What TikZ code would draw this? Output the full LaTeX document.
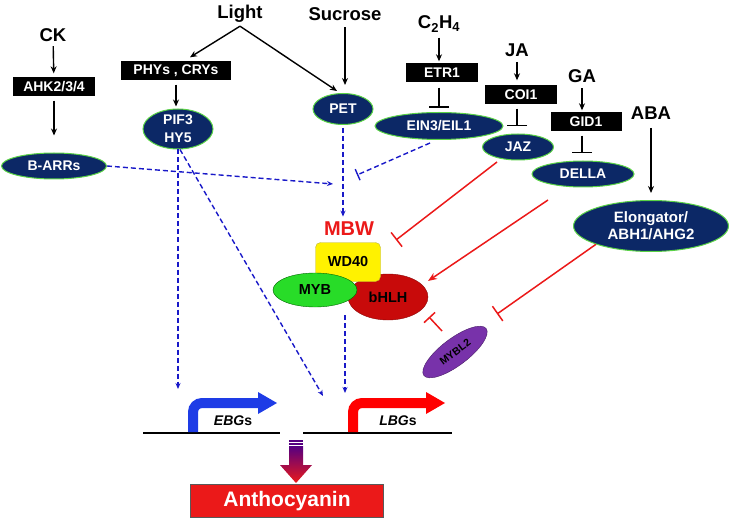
\documentclass[tikz,border=0pt]{standalone}
\usepackage{fontspec}
\setmainfont{Liberation Sans}
\usetikzlibrary{shapes.geometric}
\usetikzlibrary{arrows.meta}
\usetikzlibrary{positioning}

\definecolor{navy}{RGB}{12,40,102}
\definecolor{lgreen}{RGB}{90,210,70}
\definecolor{dblue}{RGB}{25,25,200}
\definecolor{rred}{RGB}{235,25,25}
\definecolor{hred}{RGB}{200,10,10}
\definecolor{mgreen}{RGB}{40,220,40}
\definecolor{purp}{RGB}{120,50,170}
\definecolor{darrow}{RGB}{85,0,130}
\definecolor{ebgblue}{RGB}{30,60,230}

\begin{document}
\begin{tikzpicture}[x=1pt,y=-1pt,
  title/.style={font=\fontsize{18.5}{20}\selectfont\bfseries},
  blackbox/.style={fill=black,text=white,font=\fontsize{14}{15}\selectfont\bfseries,
    minimum height=19pt,inner sep=0pt},
  oval/.style={ellipse,fill=navy,draw=lgreen,line width=1pt,text=white,
    font=\fontsize{14}{18}\selectfont\bfseries,inner sep=0pt,align=center},
  cplx/.style={inner sep=0pt,font=\fontsize{14.5}{16}\selectfont\bfseries},
  act/.style={-{Stealth[length=7pt,width=6pt]},line width=1.4pt},
  blk/.style={-{Bar[width=20pt]},line width=1.8pt},
  bact/.style={dblue,line width=1.4pt,dash pattern=on 5pt off 3pt,
    -{Stealth[length=6pt,width=5pt]}},
  binh/.style={dblue,line width=1.4pt,dash pattern=on 5pt off 3pt,-{Bar[width=12pt]}},
  ract/.style={rred,line width=1.5pt,-{Stealth[length=9pt,width=7pt]}},
  rinh/.style={rred,line width=1.5pt,-{Bar[width=18pt]}}]
\useasboundingbox (0,0) rectangle (730,521);

% signals and receptors
\node[title] (ck) at (53,35) {CK};
\node[blackbox,minimum width=82pt] (ahk) at (54,87) {AHK2/3/4};
\node[oval,minimum width=105pt,minimum height=26pt] (barr) at (54,166) {B-ARRs};
\node[title] (light) at (240,14) {Light};
\node[blackbox,minimum width=110pt] (phys) at (176,71) {PHYs , CRYs};
\node[oval,minimum width=70pt,minimum height=40pt] (pif) at (178,129) {PIF3\\HY5};
\node[title] (sucrose) at (345,14) {Sucrose};
\node[oval,minimum width=60pt,minimum height=31pt] (pet) at (343,109) {PET};
\node[title] (eth) at (439,24) {C\textsubscript{2}H\textsubscript{4}};
\node[blackbox,minimum width=72pt] (etr) at (442,73) {ETR1};
\node[oval,minimum width=128pt,minimum height=27pt] (ein) at (439,126) {EIN3/EIL1};
\node[title] (ja) at (517,50) {JA};
\node[blackbox,minimum width=72pt] (coi) at (521,95) {COI1};
\node[oval,minimum width=71pt,minimum height=26pt] (jaz) at (518,147) {JAZ};
\node[title] (ga) at (582,76) {GA};
\node[blackbox,minimum width=71pt] (gid) at (586,122) {GID1};
\node[oval,minimum width=102pt,minimum height=26pt] (della) at (583,174) {DELLA};
\node[title] (aba) at (651,113) {ABA};
\node[oval,minimum width=155pt,minimum height=51pt,font=\fontsize{15}{17}\selectfont\bfseries]
  (elong) at (651,226) {Elongator/\\ABH1/AHG2};

% MBW complex
\node[font=\fontsize{20}{22}\selectfont\bfseries,text=rred] (mbw) at (349,229) {MBW};
\node[cplx,ellipse,fill=hred,draw=hred!70!black,minimum width=80pt,minimum height=46pt]
  (bhlh) at (388,297) {bHLH};
\node[cplx,fill=yellow,draw=yellow!70!black,rounded corners=5pt,minimum width=65pt,
  minimum height=39pt] (wd) at (348,262) {WD40};
\node[cplx,ellipse,fill=mgreen,draw=green!40!black,minimum width=84pt,minimum height=34pt]
  (myb) at (315,290) {MYB};
\node[ellipse,fill=purp,draw=purp!60!black,rotate=37,minimum width=78pt,minimum height=27pt,
  inner sep=0pt,font=\fontsize{10.5}{12}\selectfont\bfseries] (mybl) at (455,352) {MYBL2};

% black arrows
\draw[act,shorten <=1pt,shorten >=4pt] (ck) -- (ahk);
\draw[act,shorten <=4pt,shorten >=17pt] (ahk) -- (barr);
\draw[act] (light.south) -- ([xshift=14pt,yshift=4pt]phys.north);
\draw[act] (light.south) -- ([xshift=-6pt,yshift=2pt]pet.north);
\draw[act,shorten <=3pt,shorten >=8pt] (sucrose) -- (sucrose |- pet.north);
\draw[act,shorten <=4pt,shorten >=2pt] (phys) -- (phys |- pif.north);
\draw[act,shorten <=2pt,shorten >=2pt] (eth) -- (eth |- etr.north);
\draw[blk,shorten <=5pt,shorten >=4pt] (etr.south -| eth) -- (eth |- ein.north);
\draw[act,shorten <=2pt,shorten >=5pt] (ja) -- (ja |- coi.north);
\draw[blk,shorten <=4pt,shorten >=7pt] (coi.south -| ja) -- (ja |- jaz.north);
\draw[act,shorten <=2pt,shorten >=2pt] (ga) -- (ga |- gid.north);
\draw[blk,shorten <=4pt,shorten >=7pt] (gid.south -| ga) -- (ga |- della.north);
\draw[act,shorten <=5pt,shorten >=7pt] (aba) -- (aba |- elong.north);

% blue dashed regulation
\coordinate (petj) at (333,184);
\coordinate (einj) at (357,175);
\coordinate (ebgin) at (178,389);
\coordinate (lbgdiag) at (323,396);
\coordinate (mbwout) at (345,315);
\coordinate (lbgin) at (345,393);
\draw[bact] (barr.east) -- (petj);
\draw[binh] ([xshift=-9pt,yshift=-3pt]ein.south) -- (einj);
\draw[bact,shorten <=3pt,shorten >=2pt] (pet.south) -- (pet.south |- mbw.north);
\draw[bact] (pif.south) -- (ebgin);
\draw[bact] ([xshift=2pt]pif.south) -- (lbgdiag);
\draw[bact] (mbwout) -- (lbgin);

% red regulation
\coordinate (mbwinh) at (396,240);
\coordinate (myblinh) at (497,314);
\draw[rinh] ([shift={(-21,15)}]jaz.center) -- (mbwinh);
\draw[ract] ([shift={(-35,26)}]della.center) -- ([shift={(40,-16)}]bhlh.center);
\draw[rinh] (elong.south west) -- (myblinh);
\draw[rinh,-{Bar[width=15pt]}] ([shift={(-13,-21)}]mybl.center) -- ([shift={(41,20)}]bhlh.center);

% genes
\draw[line width=2pt] (143,433) -- (280,433);
\draw[line width=2pt] (303,433) -- (452,433);
\draw[line width=10pt,ebgblue,rounded corners=9pt] (193,432) -- (193,403) -- (260,403);
\fill[ebgblue] (258,392) -- (277,403) -- (258,414) -- cycle;
\draw[line width=10pt,red,rounded corners=9pt] (353,432) -- (353,403) -- (428,403);
\fill[red] (426,392) -- (445,403) -- (426,414) -- cycle;
\node[font=\fontsize{14}{15}\selectfont\bfseries] (ebg) at (233,421) {\textit{EBG}s};
\node[font=\fontsize{14}{15}\selectfont\bfseries] (lbg) at (398,421) {\textit{LBG}s};

% product
\fill[darrow] (289,440) rectangle (303,441.5);
\fill[darrow] (289,443) rectangle (303,444.5);
\shade[top color=darrow,bottom color=rred] (289,446) -- (303,446) -- (303,465) -- (312,465)
  -- (296,483) -- (280,465) -- (289,465) -- cycle;
\node[fill=rred,draw=gray!70!black,minimum width=193pt,minimum height=33pt,inner sep=0pt,
  text=white,font=\fontsize{21}{23}\selectfont\bfseries] (antho) at (287,501) {Anthocyanin};
\end{tikzpicture}
\end{document}
